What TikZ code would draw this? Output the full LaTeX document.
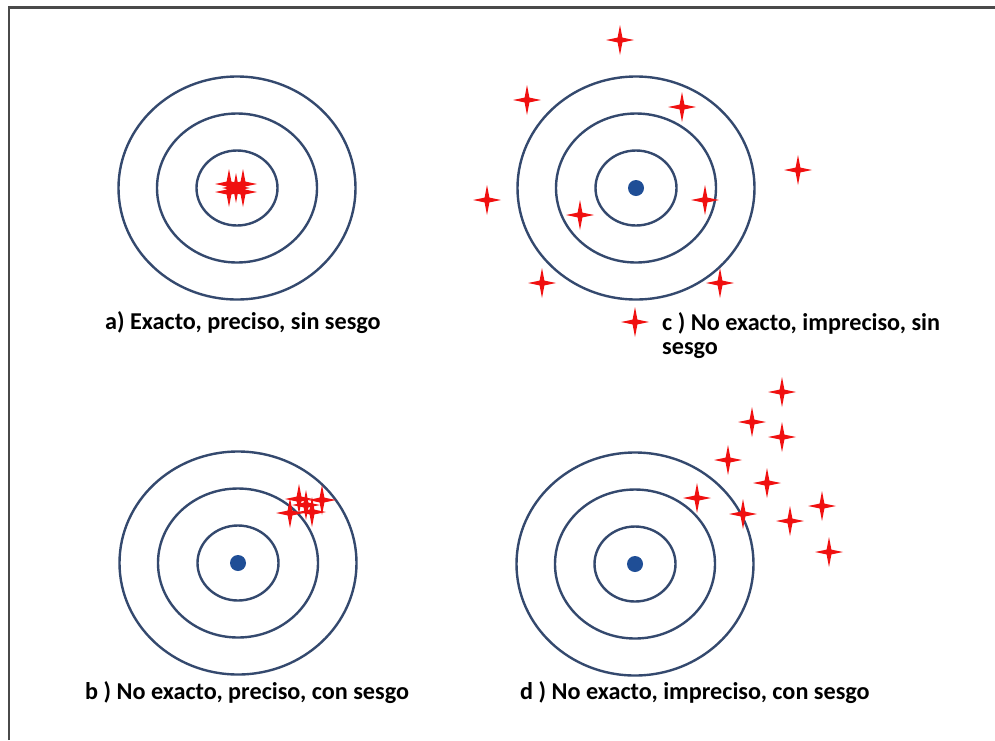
\documentclass[tikz,border=0pt]{standalone}
\usepackage{fontspec}
\setmainfont{Carlito}
\definecolor{ring}{HTML}{34496E}
\definecolor{dotblue}{HTML}{1F4E96}
\definecolor{starred}{HTML}{F01010}
\definecolor{frame}{HTML}{4A4A4A}
\tikzset{
  ringline/.style={draw=ring, line width=2.4pt},
  bull/.style={fill=dotblue},
  lbl/.style={anchor=west, font=\bfseries\fontsize{24.2}{28}\selectfont, inner sep=0pt},
  pic star/.pic={\fill[starred] (0,-15) -- (2.4,-2.4) -- (14,0) -- (2.4,2.4) -- (0,15) -- (-2.4,2.4) -- (-14,0) -- (-2.4,-2.4) -- cycle;}
}
\newcommand{\target}[3]{%
  \draw[ringline] (#1,#2) ellipse [x radius=118.5, y radius=111.5];
  \draw[ringline] (#1,#2) ellipse [x radius=80, y radius=74.5];
  \draw[ringline] (#1,#2) ellipse [x radius=40.5, y radius=37.5];
  \coordinate (#3) at (#1,#2);
}
\begin{document}
\begin{tikzpicture}[x=1pt,y=-1pt]
\useasboundingbox (0,0) rectangle (995,740);
\fill[white] (0,0) rectangle (995,740);
% frame
\draw[frame, line width=2.2pt] (9,740) -- (9,7.5) -- (995,7.5);
% targets
\target{237}{188}{ta}
\target{636}{188}{tc}
\target{238}{563}{tb}
\target{635}{564}{td}
\fill[bull] (tc) circle (8);
\fill[bull] (tb) circle (8);
\fill[bull] (td) circle (8);
% a stars
\foreach \p in {(229,184),(243,184),(229,192),(243,192),(236,188)} \pic at \p {pic star};
% b stars
\foreach \p in {(299,499),(322,500),(290,513),(312,512),(306,505)} \pic at \p {pic star};
% c stars
\foreach \p in {(620,40),(527,100),(682,107),(798,170),(487,200),(580,215),(705,200),(542,283),(720,283),(635,322)} \pic at \p {pic star};
% d stars
\foreach \p in {(782,392),(752,422),(782,437),(728,460),(767,483),(697,498),(743,514),(790,521),(822,506),(829,552)} \pic at \p {pic star};
% labels
\node[lbl] (la) at (105,323) {a) Exacto, preciso, sin sesgo};
\node[lbl] (lc) at (662,323) {c ) No exacto, impreciso, sin};
\node[lbl] (lc2) at (662,351) {sesgo};
\node[lbl] (lb) at (85,693) {b ) No exacto, preciso, con sesgo};
\node[lbl] (ld) at (520,693) {d ) No exacto, impreciso, con sesgo};
\end{tikzpicture}
\end{document}
